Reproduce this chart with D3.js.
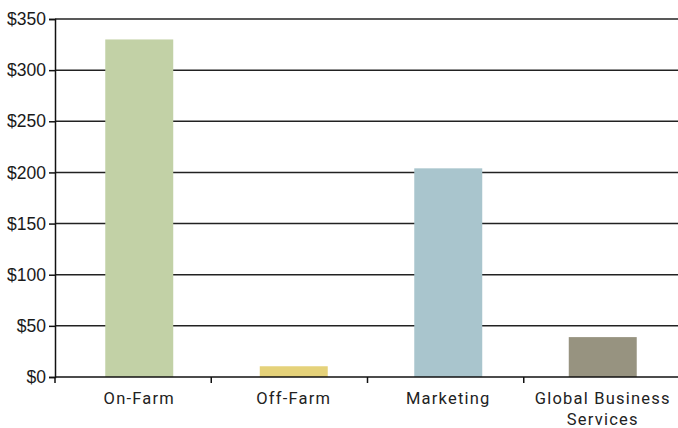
<!DOCTYPE html>
<html>
<head>
<meta charset="utf-8">
<script src="https://cdn.jsdelivr.net/npm/d3@7"></script>
<style>
  body { margin: 0; background: #fff; }
  .y-axis text { font-family: 'Liberation Sans', Arial, sans-serif; font-size: 17.5px; fill: #1a1a1a; }
  .x-axis text { font-family: 'Roboto', sans-serif; font-size: 16.5px; fill: #222; letter-spacing: 1.2px; }
</style>
</head>
<body>
<div id="chartContainer"></div>
<script>
const categories = ['On-Farm', 'Off-Farm', 'Marketing', 'Global Business Services'];
const values = [330, 10.5, 204, 39];
const colors = ['#c2d1a6', '#e5d27a', '#a9c5cd', '#979380'];
const yTicks = [0, 50, 100, 150, 200, 250, 300, 350];

const svgWidth = 678;
const svgHeight = 428;
const margin = { top: 19, right: -2, bottom: 51, left: 55 };
const chartWidth = svgWidth - margin.left - margin.right;
const chartHeight = svgHeight - margin.top - margin.bottom;

const svg = d3.select('#chartContainer').append('svg').attr('width', svgWidth).attr('height', svgHeight);
const chart = svg.append('g').attr('transform', `translate(${margin.left}, ${margin.top})`);

// axis bands (tick separators) and bar bands are slightly offset in the original
const axisScale = d3.scaleBand().range([0, chartWidth]).domain(categories);
const xScale = d3.scaleBand().range([7, chartWidth]).paddingInner(0.56).paddingOuter(0.28).domain(categories);
const yScale = d3.scaleLinear().range([chartHeight, 0]).domain([0, 350]);

// gridlines
chart.append('g')
    .selectAll('line')
    .data(yTicks.filter((d) => d > 0))
    .enter()
    .append('line')
    .attr('x1', 0)
    .attr('x2', chartWidth)
    .attr('y1', (d) => yScale(d))
    .attr('y2', (d) => yScale(d))
    .attr('stroke', '#222')
    .attr('stroke-width', 1.5);

chart.selectAll('.bar')
    .data(values)
    .enter()
    .append('rect')
    .attr('class', 'bar')
    .attr('x', (d, i) => xScale(categories[i]))
    .attr('y', (d) => yScale(d))
    .attr('width', xScale.bandwidth())
    .attr('height', (d) => chartHeight - yScale(d))
    .attr('fill', (d, i) => colors[i]);

const yAxis = d3.axisLeft(yScale).tickValues(yTicks).tickSize(6).tickPadding(3).tickFormat((d) => '$' + d);
const yg = chart.append('g').attr('class', 'y-axis').call(yAxis);
yg.select('.domain').attr('stroke', '#111').attr('stroke-width', 1.5);
yg.selectAll('.tick line').attr('stroke', '#111').attr('stroke-width', 1.5);

const xg = chart.append('g').attr('class', 'x-axis').attr('transform', `translate(0, ${chartHeight})`);
xg.append('line').attr('x1', 0).attr('x2', chartWidth).attr('stroke', '#111').attr('stroke-width', 1.5);
xg.selectAll('.sep')
    .data(categories)
    .enter()
    .append('line')
    .attr('x1', (d) => axisScale(d))
    .attr('x2', (d) => axisScale(d))
    .attr('y1', 0)
    .attr('y2', 6)
    .attr('stroke', '#111')
    .attr('stroke-width', 1.5);

const labels = xg.selectAll('.lbl')
    .data(categories)
    .enter()
    .append('text')
    .attr('text-anchor', 'middle')
    .attr('y', 27);

labels.each(function (d) {
    const t = d3.select(this);
    const cx = xScale(d) + xScale.bandwidth() / 2;
    const lines = d === 'Global Business Services' ? ['Global Business', 'Services'] : [d];
    lines.forEach((l, i) => {
        t.append('tspan').attr('x', cx).attr('dy', i === 0 ? 0 : 21).text(l);
    });
});
</script>
</body>
</html>
